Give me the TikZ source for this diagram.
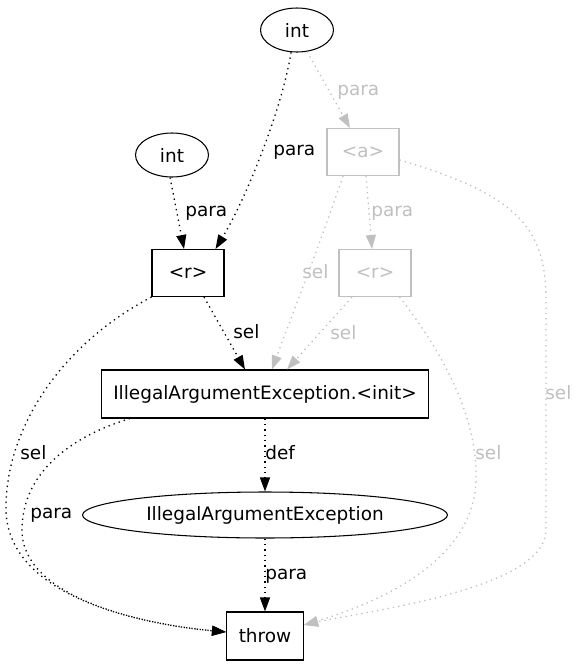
\documentclass[tikz,border=0pt]{standalone}
\usepackage{fontspec}
\setmainfont{DejaVu Sans}
\usetikzlibrary{arrows.meta,shapes.geometric,calc}
\definecolor{ghost}{RGB}{192,192,192}

\begin{document}
\begin{tikzpicture}[x=0.02cm, y=-0.02cm, every node/.style={font=\fontsize{10.5}{12}\selectfont}]
\tikzset{box/.style={draw, rectangle, line width=0.6pt, inner sep=0pt, minimum width=1.44cm, minimum height=0.94cm}}
\tikzset{oval/.style={draw, ellipse, line width=0.6pt, inner sep=0pt, minimum width=1.46cm, minimum height=0.88cm}}
\tikzset{faint/.style={draw=ghost, text=ghost}}
\tikzset{edge/.style={line width=0.75pt, dash pattern=on 0.75pt off 2.3pt, -{Triangle[length=0.28cm, width=0.2cm]}}}
\tikzset{fadededge/.style={edge, draw=ghost}}
\tikzset{lbl/.style={anchor=west, inner sep=0pt}}
\useasboundingbox (0,0) rectangle (577,667);
% nodes
\node[oval] (int1) at (297,30) {int};
\node[oval] (int2) at (172,155) {int};
\node[box, faint] (a) at (363,152) {<a>};
\node[box] (r) at (188,273) {<r>};
\node[box, faint] (rg) at (375,273) {<r>};
\node[box, minimum width=6.54cm, minimum height=0.96cm] (init) at (265,394) {IllegalArgumentException.<init>};
\node[oval, minimum width=7.3cm, minimum height=0.92cm] (exc) at (265,515) {IllegalArgumentException};
\node[box, minimum width=1.54cm, minimum height=0.96cm] (throw) at (265,636) {throw};
% black edges
\draw[edge] (int1.255) .. controls (283,105) and (248,195) .. ($(r.north east)+(-9,0)$);
\draw[edge] (int2.265) -- ($(r.north)+(-4,0)$);
\draw[edge] ($(r.south)+(16,0)$) -- ($(init.north)+(-20,0)$);
\draw[edge] (r.south west) .. controls (60,345) and (5,430) .. (6,510) .. controls (8,600) and (150,625) .. ($(throw.west)+(0,-4)$);
\draw[edge] ($(init.south west)+(29,0)$) .. controls (60,440) and (22,480) .. (22,530) .. controls (22,600) and (150,625) .. ($(throw.west)+(0,-4)$);
\draw[edge] (init.south) -- (exc.north);
\draw[edge] (exc.south) -- (throw.north);
% grey edges
\draw[fadededge] (int1.295) -- ($(a.north)+(-13,0)$);
\draw[fadededge] ($(a.south)+(3,0)$) -- ($(rg.north)+(-3,0)$);
\draw[fadededge] ($(a.south)+(-20,0)$) .. controls (318,250) and (290,320) .. ($(init.north)+(7,0)$);
\draw[fadededge] ($(a.east)+(0,8)$) .. controls (520,195) and (546,230) .. (546,300) -- (546,530) .. controls (546,590) and (360,612) .. ($(throw.east)+(0,-11)$);
\draw[fadededge] ($(rg.south)+(-23,0)$) -- ($(init.north)+(22,0)$);
\draw[fadededge] ($(rg.south east)+(-12,0)$) .. controls (445,355) and (478,420) .. (476,480) .. controls (474,565) and (370,605) .. ($(throw.east)+(0,-11)$);
% labels
\node[lbl] (l1) at (273,152) {para};
\node[lbl] (l2) at (185,213) {para};
\node[lbl] (l3) at (233,332) {sel};
\node[lbl] (l4) at (20,453) {sel};
\node[lbl] (l5) at (30,515) {para};
\node[lbl] (l6) at (265,453) {def};
\node[lbl] (l7) at (265,576) {para};
\node[lbl, text=ghost] (l8) at (337,92) {para};
\node[lbl, text=ghost] (l9) at (371,213) {para};
\node[lbl, text=ghost] (l10) at (302,272) {sel};
\node[lbl, text=ghost] (l11) at (330,333) {sel};
\node[lbl, text=ghost] (l12) at (475,453) {sel};
\node[lbl, text=ghost] (l13) at (545,393) {sel};
\end{tikzpicture}
\end{document}
